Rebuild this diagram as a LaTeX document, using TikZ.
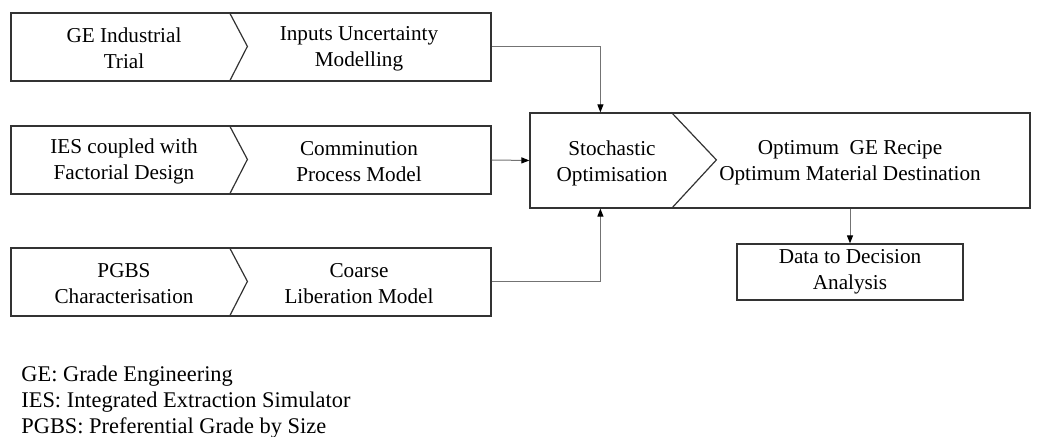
\documentclass[tikz,border=0pt]{standalone}
\usepackage{fontspec}
\setmainfont{Liberation Serif}
\usetikzlibrary{arrows.meta,positioning,calc}

\begin{document}
\begin{tikzpicture}[x=0.5pt, y=-0.5pt, font=\fontsize{10.6}{13}\selectfont,
  stagebox/.style={draw=black!80, line width=0.6pt, inner sep=0pt},
  stagetext/.style={align=center, inner sep=0pt},
  link/.style={draw=black!55, line width=0.5pt, -{Triangle[length=4pt, width=3pt, black]}}]
  \useasboundingbox (0,0) rectangle (1041,437);

  % Input chains: box, chevron split and the two labels
  \foreach \name/\y/\lefttext/\righttext in {
      trial/47/{GE Industrial\\Trial}/{Inputs Uncertainty\\Modelling},
      ies/160/{IES coupled with\\Factorial Design}/{Comminution\\Process Model},
      pgbs/282/{PGBS\\Characterisation}/{Coarse\\Liberation Model}} {
    \node[stagebox, minimum width=240pt, minimum height=34pt] (\name) at (251,\y) {};
    \draw[black!80, line width=0.6pt] ($(\name.north west)+(219,0)$) -- ++(18,34) -- ($(\name.south west)+(219,0)$);
    \node[stagetext] (\name-l) at (124,\y+1.5) {\lefttext};
    \node[stagetext] (\name-r) at (359,\y+1.5) {\righttext};
  }

  % Optimisation stage
  \node[stagebox, minimum width=250pt, minimum height=47.5pt] (opt) at (780,160.5) {};
  \draw[black!80, line width=0.6pt] ($(opt.north west)+(142,0)$) -- ++(45,47.5) -- ($(opt.south west)+(142,0)$);
  \node[stagetext] (opt-l) at (612,163) {Stochastic\\Optimisation};
  \node[stagetext] (opt-r) at (850,163) {Optimum\ \ GE Recipe\\Optimum Material Destination};

  % Output box
  \node[stagebox, minimum width=113pt, minimum height=28pt] (d2d) at (850,272) {};
  \node[stagetext] (d2d-t) at (850,272) {Data to Decision\\Analysis};

  % Connectors
  \draw[link] (trial.east) -| ($(opt.north west)+(71,0)$);
  \draw[link] (ies.east) -- (opt.west);
  \draw[link] (pgbs.east) -| ($(opt.south west)+(71,0)$);
  \draw[link] (opt.south -| d2d.north) -- (d2d.north);

  % Abbreviations
  \node[anchor=north west, align=left, inner sep=0pt, font=\fontsize{11.2}{13}\selectfont] (abbr) at (21,366) {%
    GE: Grade Engineering\\
    IES: Integrated Extraction Simulator\\
    PGBS: Preferential Grade by Size};
\end{tikzpicture}
\end{document}
